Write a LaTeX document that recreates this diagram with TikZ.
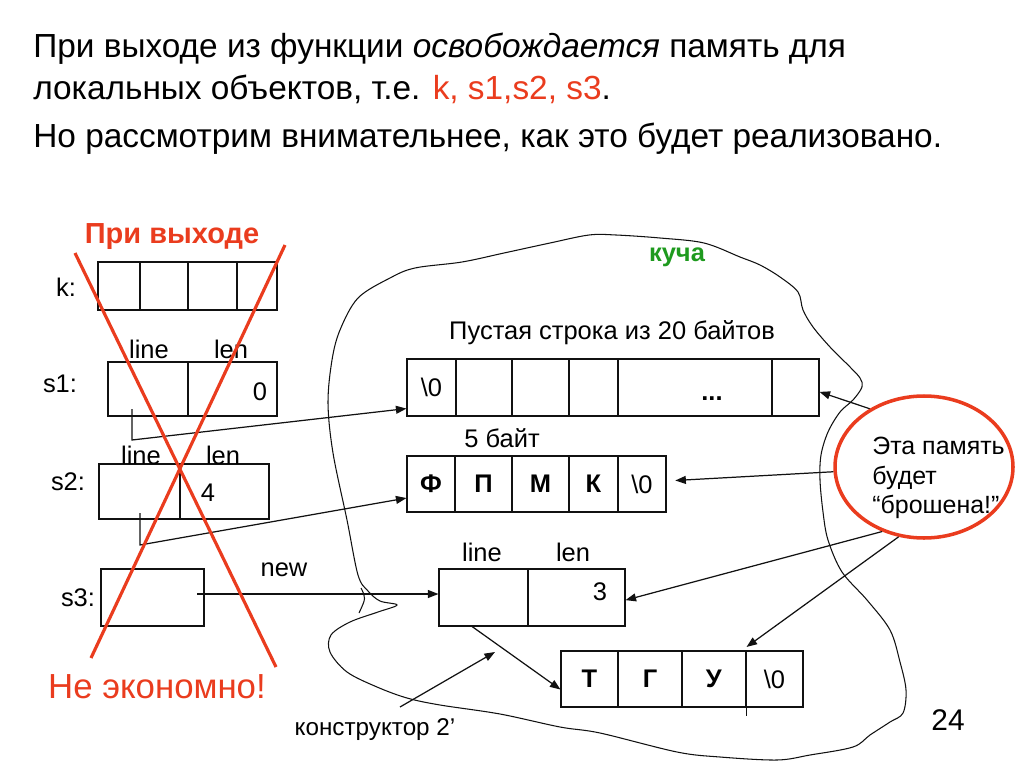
\documentclass[tikz,border=0pt]{standalone}
\usepackage{fontspec}
\setmainfont{Liberation Sans}
\usepackage{xcolor}
\usetikzlibrary{arrows.meta,positioning,calc,shapes.geometric}
\definecolor{alarm}{HTML}{EA3C1E}
\definecolor{heapgreen}{HTML}{1E9A1E}
\definecolor{ink}{HTML}{111111}

\begin{document}
\begin{tikzpicture}[x=0.02cm,y=-0.02cm,
    box/.style={draw=ink,line width=0.6pt,inner sep=0pt,font=\fontsize{14.5}{17}\selectfont},
    lbl/.style={font=\fontsize{14.5}{17}\selectfont,inner sep=0pt},
    para/.style={font=\fontsize{19}{23}\selectfont,inner sep=0pt,anchor=base west},
    ptr/.style={draw=ink,line width=0.7pt,-{Triangle[length=6pt,width=4.5pt]}},
    cross/.style={alarm,line width=1.8pt}]
  \def\cellbox#1#2#3#4#5#6{% name, left, right, top, bottom, content
    \node[box,minimum width={(#3-#2)*0.02cm},minimum height={(#5-#4)*0.02cm}]
      (#1) at ({(#2+#3)/2},{(#4+#5)/2}) {#6};}
  \useasboundingbox (0,0) rectangle (1024,767);
  % heading
  \node[para] (line1) at (33,58) {При выходе из функции \textit{освобождается} память для};
  \node[para] (line2) at (33,100) {локальных объектов, т.е. \textcolor{alarm}{k, s1,s2, s3}.};
  \node[para] (line3) at (33,148) {Но рассмотрим внимательнее, как это будет реализовано.};
  % heap outline
  \draw[ink,line width=0.6pt] plot[smooth cycle,tension=0.55] coordinates {
    (358,298) (390,278) (415,268) (462,262) (504,253) (550,243) (589,235) (616,235)
    (660,238) (704,243) (740,257) (760,265) (780,277) (798,292) (803,310) (813,327)
    (830,347) (850,367) (860,378) (862,387) (853,400) (840,412) (828,432) (821,455)
    (820,480) (823,512) (828,540) (842,572) (867,600) (890,630) (900,662) (906,690)
    (903,713) (890,722) (870,735) (853,747) (810,755) (777,760) (720,757) (677,752)
    (600,733) (560,727) (500,714) (440,705) (407,698) (377,687) (347,672) (330,652)
    (331,635) (350,622) (378,612) (397,605) (380,601) (368,591) (358,575) (347,520)
    (333,453) (328,403) (332,360) (340,330)};
  \draw[ink,line width=0.6pt] (361,588) .. controls (366,598) .. (359,613);
  \node[font=\fontsize{14.5}{17}\selectfont\bfseries,text=heapgreen] (heap) at (677,257) {куча};
  % stack side
  \node[font=\fontsize{16.5}{19}\selectfont\bfseries,text=alarm] (onexit) at (172,237) {При выходе};
  \node[lbl] (klbl) at (66,287) {k:};
  \foreach \a/\b [count=\i] in {98/140,140/188,188/237,237/277}
    \cellbox{k\i}{\a}{\b}{262}{310}{};
  \node[lbl] (s1lbl) at (60,384) {s1:};
  \cellbox{s1a}{108}{188}{362}{416}{}
  \cellbox{s1b}{188}{277}{362}{416}{}
  \node[lbl] at (149,349) {line};
  \node[lbl] at (231,349) {len};
  \node[lbl] (s1v) at (260,392) {0};
  \node[lbl] (s2lbl) at (68,482) {s2:};
  \cellbox{s2a}{99}{180}{464}{519}{}
  \cellbox{s2b}{180}{269}{464}{519}{}
  \node[lbl] at (141,455) {line};
  \node[lbl] at (223,455) {len};
  \node[lbl] (s2v) at (208,493) {4};
  \node[lbl] (s3lbl) at (78,598) {s3:};
  \cellbox{s3a}{101}{204}{569}{626}{}
  % heap objects
  \node[lbl] (h1lbl) at (612,333) {Пустая строка из 20 байтов};
  \foreach \a/\b/\t [count=\i] in {407/456/{\textbackslash 0},456/512/{},512/569/{},569/618/{},618/772/{},772/819/{}}
    \cellbox{h1c\i}{\a}{\b}{359}{416}{\t};
  \node[font=\fontsize{14.5}{17}\selectfont\bfseries,inner sep=0pt] (dots) at (712,399) {...};
  \node[lbl] (h2lbl) at (502,438) {5 байт};
  \foreach \a/\b/\t [count=\i] in {407/455/{\textbf{Ф}},455/512/{\textbf{П}},512/569/{\textbf{М}},569/618/{\textbf{К}},618/666/{\textbackslash 0}}
    \cellbox{h2c\i}{\a}{\b}{456}{512}{\t};
  \cellbox{sl1}{439}{528}{569}{626}{}
  \cellbox{sl2}{528}{625}{569}{626}{}
  \node[lbl] at (482,552) {line};
  \node[lbl] at (573,552) {len};
  \node[lbl] (slv) at (600,592) {3};
  \foreach \a/\b/\t [count=\i] in {561/618/{\textbf{Т}},618/682/{\textbf{Г}},682/746/{\textbf{У}},746/803/{\textbackslash 0}}
    \cellbox{h3c\i}{\a}{\b}{651}{707}{\t};
  \draw[ink,line width=0.6pt] (h3c3.south east) -- ++(0,8);
  % pointers
  \coordinate (s1p) at (132,409);
  \coordinate (s2p) at (140,513);
  \coordinate (s3p) at (197,594);
  \draw[ptr] (s1p) -- (132,440) -- ([yshift=-12pt]h1c1.west);
  \draw[ptr] (s2p) -- (140,545) -- ([yshift=-8pt]h2c1.west);
  \draw[ptr] (s3p) -- (s3p -| sl1.west);
  \node[lbl] (newlbl) at (284,570) {new};
  \draw[ptr] ([xshift=-6.5pt]sl1.south) -- ([yshift=-6pt]h3c1.west);
  \node[font=\fontsize{13.8}{16}\selectfont,inner sep=0pt] (ctorlbl) at (375,730) {конструктор 2’};
  \coordinate (ctor) at (400,707);
  \coordinate (ctortip) at (495,652);
  \draw[ptr] (ctor) -- (ctortip);
  % the crossed-out stack
  \draw[cross] (75,253) -- (276,667);
  \draw[cross] (285,245) -- (91,658);
  \node[font=\fontsize{19.8}{23}\selectfont,text=alarm] (waste) at (157,687) {Не экономно!};
  % garbage
  \node[ellipse,draw=alarm,line width=2pt,inner sep=0pt,minimum width={178*0.02cm},minimum height={142*0.02cm}] (gone) at (924,467) {};
  \node[font=\fontsize{14.2}{17}\selectfont,align=left,anchor=west,inner sep=0pt] (gonetxt) at (872,478) {Эта память\\будет\\“брошена!”};
  \draw[ptr] (gone.133) -- ([yshift=-2.5pt]h1c6.east);
  \draw[ptr] (gone.183) -- ([xshift=5pt,yshift=2pt]h2c5.east);
  \draw[ptr] (gone.237) -- ([yshift=-1.5pt]sl2.east);
  \draw[ptr] (gone.250) -- ([yshift=2pt]h3c3.north east);
  \node[font=\fontsize{17}{20}\selectfont] (pageno) at (948,720) {24};
\end{tikzpicture}
\end{document}
